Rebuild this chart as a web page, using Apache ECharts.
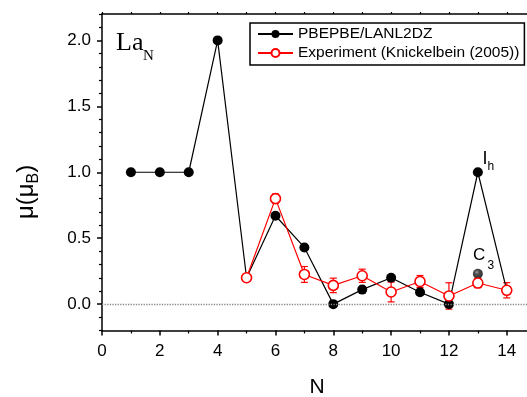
<!DOCTYPE html>
<html><head><meta charset="utf-8">
<script src="https://cdn.jsdelivr.net/npm/echarts@6/dist/echarts.min.js"></script>
<style>html,body{margin:0;padding:0;background:#fff}#c{width:527px;height:397px}</style>
</head><body><div id="c"></div>
<script>
// ---- data ----
const calcN = [1,2,3,4,5,6,7,8,9,10,11,12,13,14];
const calcMu = [1.0,1.0,1.0,2.0,0.2,0.67,0.43,0.0,0.11,0.2,0.09,0.0,1.0,0.105];
const expN = [5,6,7,8,9,10,11,12,13,14];
const expMu = [0.2,0.8,0.225,0.142,0.215,0.092,0.172,0.062,0.16,0.105];
const expErr = [0.015,0.035,0.06,0.055,0.05,0.075,0.045,0.1,0.035,0.058];
const c3N = [13];
const c3Mu = [0.23];
const xMajorTicks = [0,2,4,6,8,10,12,14];
const xMinorTicks = [1,3,5,7,9,11,13];
const xTopTicks = [0,1,2,3,4,5,6,7,8,9,10,11,12,13,14];
const yMajorTicks = [0,0.5,1.0,1.5,2.0];
const yMinorTicks = [-0.2,-0.1,0.1,0.2,0.3,0.4,0.6,0.7,0.8,0.9,1.1,1.2,1.3,1.4,1.6,1.7,1.8,1.9,2.1,2.2];

const FONT = 'Liberation Sans, Arial, sans-serif';
const SERIF = 'Liberation Serif, Times New Roman, serif';
const chart = echarts.init(document.getElementById('c'), null, {renderer:'canvas'});
const X = {min:0, max:14.7};
const Y = {min:-0.2, max:2.2};
const axLine = {show:true, onZero:false, lineStyle:{color:'#000', width:1.5}};

const option = {
  animation:false,
  backgroundColor:'#fff',
  grid:{left:102, right:0, top:14, bottom:66.5, outerBoundsMode:'none', containLabel:false},
  xAxis:[
    {type:'value', position:'bottom', ...X, axisLine:axLine, splitLine:{show:false},
     axisTick:{show:true, inside:false, length:5, customValues:xMajorTicks, lineStyle:{color:'#000', width:1.5}},
     axisLabel:{show:true, customValues:xMajorTicks, margin:12, fontSize:17, fontFamily:FONT, color:'#000'}},
    {type:'value', position:'bottom', ...X, axisLine:{show:false, onZero:false}, splitLine:{show:false},
     axisTick:{show:true, length:3, customValues:xMinorTicks, lineStyle:{color:'#000', width:1.2}},
     axisLabel:{show:false}},
    {type:'value', position:'top', ...X, axisLine:axLine, splitLine:{show:false},
     axisTick:{show:true, length:2, customValues:xTopTicks, lineStyle:{color:'#000', width:1.2}},
     axisLabel:{show:false}}
  ],
  yAxis:[
    {type:'value', position:'left', ...Y, axisLine:axLine, splitLine:{show:false},
     axisTick:{show:true, length:5, customValues:yMajorTicks, lineStyle:{color:'#000', width:1.5}},
     axisLabel:{show:true, customValues:yMajorTicks, margin:11, fontSize:17, fontFamily:FONT, color:'#000',
       formatter:v=>Number(v).toFixed(1)}},
    {type:'value', position:'left', ...Y, axisLine:{show:false, onZero:false}, splitLine:{show:false},
     axisTick:{show:true, length:3, customValues:yMinorTicks, lineStyle:{color:'#000', width:1.2}},
     axisLabel:{show:false}}
  ],
  legend:{
    orient:'vertical', left:250, top:23, padding:[3,5,4,7], itemGap:3,
    itemWidth:35, itemHeight:10, borderColor:'#000', borderWidth:1.5, backgroundColor:'#fff',
    textStyle:{fontSize:15.5, fontFamily:FONT, color:'#000'},
    data:['PBEPBE/LANL2DZ','Experiment (Knickelbein (2005))']
  },
  series:[
    {name:'PBEPBE/LANL2DZ', type:'line', xAxisIndex:0, yAxisIndex:0,
     data:calcN.map((n,i)=>[n,calcMu[i]]),
     symbol:'circle', symbolSize:10, showSymbol:true,
     lineStyle:{color:'#000', width:1.2}, itemStyle:{color:'#000'},
     markLine:{silent:true, symbol:['none','none'], label:{show:false},
       lineStyle:{type:'dotted', color:'#888', width:1.3}, data:[{yAxis:0}]}},
    {name:'errbar', type:'custom', xAxisIndex:0, yAxisIndex:0,
     data:expN.map((n,i)=>[n,expMu[i],expErr[i]]),
     renderItem:function(params, api){
       const x = api.value(0), y = api.value(1), e = api.value(2);
       const t = api.coord([x, y+e]), b = api.coord([x, y-e]);
       const w = 3.5, st = {stroke:'#f00', lineWidth:1.2};
       return {type:'group', children:[
         {type:'line', shape:{x1:t[0],y1:t[1],x2:b[0],y2:b[1]}, style:st},
         {type:'line', shape:{x1:t[0]-w,y1:t[1],x2:t[0]+w,y2:t[1]}, style:st},
         {type:'line', shape:{x1:b[0]-w,y1:b[1],x2:b[0]+w,y2:b[1]}, style:st}
       ]};
     }},
    {name:'Experiment (Knickelbein (2005))', type:'line', xAxisIndex:0, yAxisIndex:0,
     data:expN.map((n,i)=>[n,expMu[i]]),
     symbol:'circle', symbolSize:10, showSymbol:true,
     lineStyle:{color:'#f00', width:1.2},
     itemStyle:{color:'#fff', borderColor:'#f00', borderWidth:1.6}},
    {name:'C3', type:'scatter', xAxisIndex:0, yAxisIndex:0,
     data:c3N.map((n,i)=>[n,c3Mu[i]]), symbol:'circle', symbolSize:10,
     itemStyle:{color:new echarts.graphic.RadialGradient(0.4,0.35,0.6,[{offset:0,color:'#888'},{offset:0.35,color:'#222'},{offset:1,color:'#000'}])}}
  ],
  graphic:[
    {type:'text', x:116, y:43.2, style:{text:'La', font:'26px '+SERIF, fill:'#000', textAlign:'left', textVerticalAlign:'middle'}},
    {type:'text', x:143, y:56, style:{text:'N', font:'15px '+SERIF, fill:'#000', textAlign:'left', textVerticalAlign:'middle'}},
    {type:'text', x:482.5, y:158.7, style:{text:'I', font:'18px '+FONT, fill:'#000', textAlign:'left', textVerticalAlign:'middle'}},
    {type:'text', x:487.5, y:167, style:{text:'h', font:'12px '+FONT, fill:'#000', textAlign:'left', textVerticalAlign:'middle'}},
    {type:'text', x:473, y:255.7, style:{text:'C', font:'17px '+FONT, fill:'#000', textAlign:'left', textVerticalAlign:'middle'}},
    {type:'text', x:487.5, y:265.8, style:{text:'3', font:'12px '+FONT, fill:'#000', textAlign:'left', textVerticalAlign:'middle'}},
    {type:'text', x:317, y:387, style:{text:'N', font:'21px '+FONT, fill:'#000', textAlign:'center', textVerticalAlign:'middle'}},
    {type:'group', x:26, y:192, rotation:Math.PI/2, children:[
      {type:'text', x:-27, y:0, style:{text:'μ(μ', font:'24px '+FONT, fill:'#000', textAlign:'left', textVerticalAlign:'middle'}},
      {type:'text', x:8.6, y:8, style:{text:'B', font:'16px '+FONT, fill:'#000', textAlign:'left', textVerticalAlign:'middle'}},
      {type:'text', x:19.3, y:0, style:{text:')', font:'24px '+FONT, fill:'#000', textAlign:'left', textVerticalAlign:'middle'}}
    ]}
  ]
};
chart.setOption(option);
</script></body></html>
